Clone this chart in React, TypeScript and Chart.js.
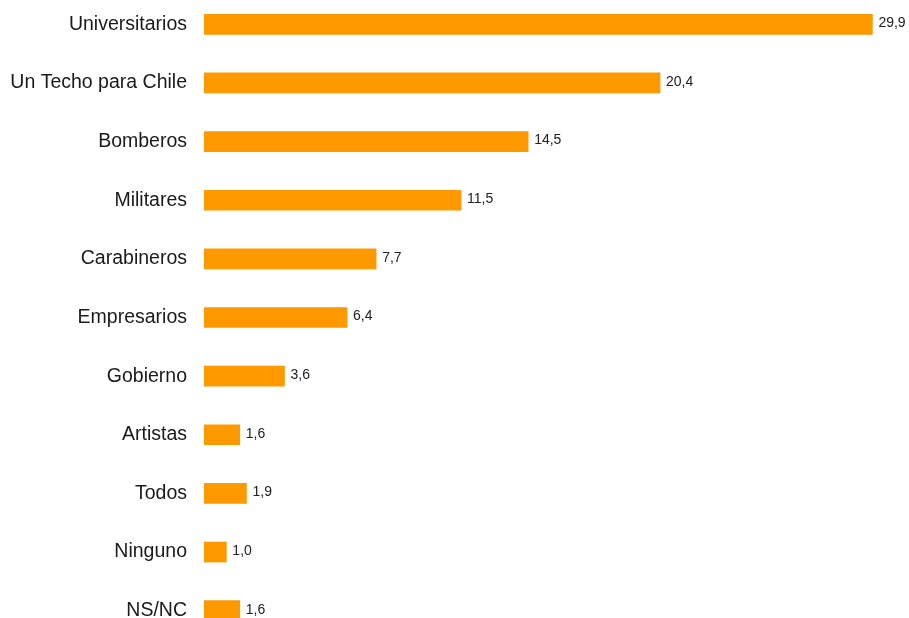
import React, { useEffect, useRef } from "react";
import { Chart, registerables } from "chart.js";

Chart.register(...registerables);

const categories = [
  "Universitarios",
  "Un Techo para Chile",
  "Bomberos",
  "Militares",
  "Carabineros",
  "Empresarios",
  "Gobierno",
  "Artistas",
  "Todos",
  "Ninguno",
  "NS/NC",
];
const values = [29.9, 20.4, 14.5, 11.5, 7.7, 6.4, 3.6, 1.6, 1.9, 1.0, 1.6];

const valueLabels = {
  id: "valueLabels",
  afterDatasetsDraw(chart: any) {
    const ctx = chart.ctx;
    const meta = chart.getDatasetMeta(0);
    ctx.save();
    ctx.font = '14px "Liberation Sans", Arial, sans-serif';
    ctx.fillStyle = "#222222";
    ctx.textAlign = "left";
    ctx.textBaseline = "middle";
    meta.data.forEach((bar: any, i: number) => {
      const v = values[i];
      ctx.fillText(v.toFixed(1).replace(".", ","), bar.x + 6, bar.y - 1);
    });
    ctx.restore();
  },
};

export default function App() {
  const ref = useRef<HTMLCanvasElement>(null);
  useEffect(() => {
    if (!ref.current) return;
    const chart = new Chart(ref.current, {
      type: "bar",
      data: {
        labels: categories,
        datasets: [
          {
            data: values,
            backgroundColor: "#ff9900",
            borderWidth: 0,
            barThickness: 20,
          },
        ],
      },
      options: {
        indexAxis: "y",
        animation: false,
        responsive: false,
        maintainAspectRatio: false,
        layout: { padding: { left: 0, right: 12, top: 0, bottom: 0 } },
        plugins: {
          legend: { display: false },
          tooltip: { enabled: false },
        },
        scales: {
          x: {
            display: false,
            min: 0,
            max: 31,
          },
          y: {
            grid: { display: false, drawTicks: false },
            border: { display: false },
            ticks: {
              padding: 17,
              color: "#1a1a1a",
              font: { family: '"Liberation Sans", Arial, sans-serif', size: 19.5 },
            },
            afterFit(scale: any) {
              scale.width = 204;
              scale.paddingTop = 0;
              scale.paddingBottom = 0;
            },
          },
        },
      },
      plugins: [valueLabels],
    });
    return () => chart.destroy();
  }, []);
  return (
    <div
      style={{
        position: "fixed",
        top: -5,
        left: 0,
        width: 909,
        height: 645,
        background: "#ffffff",
      }}
    >
      <canvas ref={ref} width={909} height={645} style={{ display: "block" }} />
    </div>
  );
}
